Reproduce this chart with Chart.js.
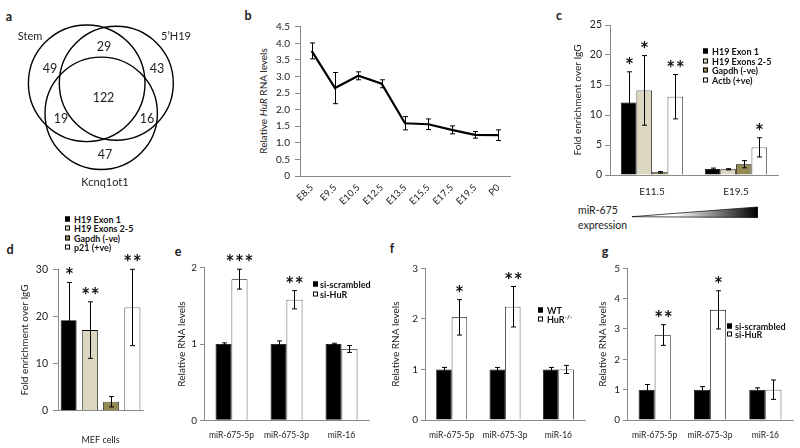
<!DOCTYPE html>
<html><head><meta charset="utf-8">
<script src="https://cdn.jsdelivr.net/npm/chart.js@4.4.0/dist/chart.umd.min.js"></script>
<style>
html,body{margin:0;padding:0;background:#fff;}
body{width:800px;height:448px;position:relative;overflow:hidden;font-family:Lato,"Open Sans",sans-serif;color:#1a1a1a;}
canvas{position:absolute;}
.t{position:absolute;white-space:nowrap;line-height:1;}
.letter{font-weight:bold;font-size:12.5px;transform:translate(-50%,-50%);}
.leg{position:absolute;font-weight:bold;font-size:9px;color:#111;}
.leg .it{position:absolute;white-space:nowrap;line-height:1;transform:translateY(-50%);}
.leg .sw{position:absolute;width:5px;height:5px;border:1px solid #000;box-sizing:border-box;transform:translateY(-50%);}
.rot{position:absolute;white-space:nowrap;font-size:10px;line-height:1;transform:translate(-50%,-50%) rotate(-90deg);color:#222;}
sup{font-size:6px;vertical-align:4px;}
</style></head><body>

<div class="t letter" style="left:9px;top:17px">a</div>
<div class="t letter" style="left:248px;top:16px">b</div>
<div class="t letter" style="left:559px;top:16px">c</div>
<div class="t letter" style="left:10px;top:250px">d</div>
<div class="t letter" style="left:178px;top:252px">e</div>
<div class="t letter" style="left:392px;top:249px">f</div>
<div class="t letter" style="left:605px;top:252px">g</div>

<div class="rot" style="left:263px;top:101px">Relative <i>HuR</i> RNA levels</div>

<div class="t" style="left:578px;top:205px;font-size:10.5px;color:#222">miR-675</div>
<div class="t" style="left:578px;top:220px;font-size:10.5px;color:#222">expression</div>
<svg style="position:absolute;left:0;top:0" width="800" height="448">
<defs><linearGradient id="gr" x1="0" x2="1"><stop offset="0" stop-color="#fff"/><stop offset="0.35" stop-color="#fff"/><stop offset="1" stop-color="#000"/></linearGradient></defs>
<polygon points="632,216.7 757.5,207 757.5,217.5" fill="url(#gr)" stroke="#000" stroke-width="0.7"/>
<line x1="756.5" y1="207" x2="756.5" y2="217.5" stroke="#000" stroke-width="2"/>
</svg>

<script>
// ================= DATA =================
// Panel a (Venn)
const vennSets = ['Stem', '5’H19', 'Kcnq1ot1'];
const vennCounts = [49, 29, 43, 122, 19, 16, 47]; // Stem only, Stem∩5'H19, 5'H19 only, all, Stem∩Kcnq, 5'H19∩Kcnq, Kcnq only

// Panel b
const bCategories = ['E8.5','E9.5','E10.5','E12.5','E13.5','E15.5','E17.5','E19.5','P0'];
const bValues = [3.77, 2.65, 3.02, 2.78, 1.59, 1.56, 1.39, 1.24, 1.23];
const bErrors = [0.24, 0.47, 0.12, 0.12, 0.20, 0.16, 0.12, 0.10, 0.16];
const bYTicks = [0, 0.5, 1, 1.5, 2, 2.5, 3, 3.5, 4, 4.5];

// Panel c
const cCategories = ['E11.5', 'E19.5'];
const cSeries = ['H19 Exon 1', 'H19 Exons 2-5', 'Gapdh (-ve)', 'Actb (+ve)'];
const cH19Exon1 = [12.1, 1.0];
const cH19Exons25 = [14.1, 0.95];
const cGapdh = [0.45, 1.8];
const cActb = [13.05, 4.6];
const cH19Exon1Err = [5.1, 0.15];
const cH19Exons25Err = [5.8, 0.1];
const cGapdhErr = [0.12, 0.6];
const cActbErr = [3.7, 1.6];
const cStars = [['*', ''], ['*', ''], ['', ''], ['**', '*']];
const cYTicks = [0, 5, 10, 15, 20, 25];

// Panel d
const dCategories = ['MEF cells'];
const dSeries = ['H19 Exon 1', 'H19 Exons 2-5', 'Gapdh (-ve)', 'p21 (+ve)'];
const dH19Exon1 = [19.2];
const dH19Exons25 = [17.1];
const dGapdh = [1.9];
const dP21 = [21.9];
const dH19Exon1Err = [8.0];
const dH19Exons25Err = [6.0];
const dGapdhErr = [1.1];
const dP21Err = [8.1];
const dStars = [['*'], ['**'], [''], ['**']];
const dYTicks = [0, 10, 20, 30];

// Panel e
const eCategories = ['miR-675-5p', 'miR-675-3p', 'miR-16'];
const eSeries = ['si-scrambled', 'si-HuR'];
const eScrambled = [1.0, 1.0, 1.0];
const eSiHuR = [1.85, 1.58, 0.935];
const eScrambledErr = [0.015, 0.04, 0.01];
const eSiHuRErr = [0.13, 0.12, 0.045];
const eStars = ['***', '**', ''];
const eYTicks = [0, 1, 2];

// Panel f
const fCategories = ['miR-675-5p', 'miR-675-3p', 'miR-16'];
const fSeries = ['WT', 'HuR-/-'];
const fWT = [1.0, 1.0, 1.0];
const fHuRKO = [2.03, 2.24, 1.0];
const fWTErr = [0.04, 0.04, 0.04];
const fHuRKOErr = [0.35, 0.40, 0.08];
const fStars = ['*', '**', ''];
const fYTicks = [0, 1, 2, 3];

// Panel g
const gCategories = ['miR-675-5p', 'miR-675-3p', 'miR-16'];
const gSeries = ['si-scrambled', 'si-HuR'];
const gScrambled = [1.0, 1.0, 1.0];
const gSiHuR = [2.8, 3.63, 1.0];
const gScrambledErr = [0.17, 0.10, 0.06];
const gSiHuRErr = [0.34, 0.63, 0.32];
const gStars = ['**', '*', ''];
const gYTicks = [0, 1, 2, 3, 4, 5];

// ================= STYLE / LAYOUT =================
const FONT = 'Lato, "Open Sans", sans-serif';
const AX = '#8a8a8a';
const TXT = '#222';
const BLACK = '#000000', BEIGE = '#dcd7c0', OLIVE = '#948a54', WHITE = '#ffffff';

Chart.defaults.font.family = FONT;
Chart.defaults.color = TXT;
Chart.defaults.animation = false;
Chart.defaults.events = [];
Chart.defaults.plugins.legend.display = false;
Chart.defaults.plugins.tooltip.enabled = false;

function drawStars(ctx, s, cx, cy) {
  ctx.save();
  ctx.font = 'bold 21px ' + FONT;
  const m = ctx.measureText('*');
  const gap = 9.5, n = s.length;
  ctx.fillStyle = '#111'; ctx.textAlign = 'center'; ctx.textBaseline = 'alphabetic';
  const by = cy + (m.actualBoundingBoxAscent - m.actualBoundingBoxDescent) / 2;
  for (let k = 0; k < n; k++) ctx.fillText('*', cx + (k - (n - 1) / 2) * gap, by);
  ctx.restore();
}

const errStarPlugin = {
  id: 'errStar',
  afterDatasetsDraw(chart) {
    const ctx = chart.ctx, y = chart.scales.y;
    ctx.save();
    chart.data.datasets.forEach((ds, i) => {
      if (!ds.errors) return;
      const meta = chart.getDatasetMeta(i);
      meta.data.forEach((el, j) => {
        const v = ds.data[j], e = ds.errors[j];
        const x = Math.round(el.x) + 0.5;
        const yt = y.getPixelForValue(v + e), yb = y.getPixelForValue(v - e);
        const cw = 2.5;
        ctx.strokeStyle = '#000'; ctx.lineWidth = 1;
        ctx.beginPath();
        ctx.moveTo(x, yt); ctx.lineTo(x, yb);
        ctx.moveTo(x - cw, yt); ctx.lineTo(x + cw, yt);
        ctx.moveTo(x - cw, yb); ctx.lineTo(x + cw, yb);
        ctx.stroke();
        const s = ds.stars && ds.stars[j];
        if (s) drawStars(ctx, s, x, yt - 11);
      });
    });
    ctx.restore();
  }
};

function mk(box, area, yW, xH, config) {
  const cv = document.createElement('canvas');
  cv.width = box.w; cv.height = box.h;
  cv.style.left = box.x + 'px'; cv.style.top = box.y + 'px';
  cv.style.width = box.w + 'px'; cv.style.height = box.h + 'px';
  document.body.appendChild(cv);
  config.options.responsive = false;
  config.options.maintainAspectRatio = false;
  config.options.layout = { padding: {
    left: area.l - box.x - yW, top: area.t - box.y,
    right: box.x + box.w - area.r, bottom: box.y + box.h - area.b - xH } };
  if (config.options.scales) {
    config.options.scales.x.afterFit = s => { s.height = xH; };
    config.options.scales.y.afterFit = s => { s.width = yW; };
  }
  return new Chart(cv, config);
}

function yScale(ticksArr, opts) {
  return {
    min: ticksArr[0], max: ticksArr[ticksArr.length - 1],
    afterBuildTicks: s => { s.ticks = ticksArr.map(v => ({ value: v })); },
    ticks: { font: { size: opts.tickSize }, padding: opts.pad, color: TXT },
    grid: { drawOnChartArea: false, drawTicks: true, tickLength: opts.tl, color: AX, lineWidth: 1 },
    border: { display: true, color: AX, width: 1 },
    title: opts.title ? { display: true, text: opts.title, font: { size: 10 }, padding: 0, color: TXT } : { display: false }
  };
}
function xScale(opts) {
  return {
    type: 'category', offset: true,
    grid: { display: false, drawTicks: false },
    border: { display: true, color: AX, width: 1 },
    ticks: { font: { size: opts.size }, padding: opts.pad, color: TXT, autoSkip: false, maxRotation: opts.rot || 0, minRotation: opts.rot || 0 }
  };
}

// ---------- Panel a: Venn ----------
const vennCircles = [ {x: 86.7, y: 83.3, rad: 58.3}, {x: 116.3, y: 83.3, rad: 57.0}, {x: 101.2, y: 113.3, rad: 56.2} ];
const vennSetPos = [ [30, 36], [176, 36], [105, 182] ];
const vennCountPos = [ [50, 69], [104, 47], [157, 68.5], [103.5, 97.5], [61, 118.5], [147, 118.5], [105, 155] ];
const vennLabelPlugin = {
  id: 'vennLabels',
  afterDatasetsDraw(chart) {
    const { ctx, scales: { x, y } } = chart;
    ctx.save();
    ctx.fillStyle = TXT; ctx.textAlign = 'center'; ctx.textBaseline = 'middle';
    ctx.font = '12.5px ' + FONT;
    vennCounts.forEach((c, i) => ctx.fillText(String(c), x.getPixelForValue(vennCountPos[i][0]), y.getPixelForValue(vennCountPos[i][1])));
    ctx.font = '11px ' + FONT;
    vennSets.forEach((s, i) => ctx.fillText(s, x.getPixelForValue(vennSetPos[i][0]), y.getPixelForValue(vennSetPos[i][1])));
    ctx.restore();
  }
};
(function () {
  const cv = document.createElement('canvas');
  cv.width = 200; cv.height = 200;
  cv.style.left = '0px'; cv.style.top = '0px'; cv.style.width = '200px'; cv.style.height = '200px';
  document.body.appendChild(cv);
  const radFn = ctx => {
    if (!ctx.raw) return 0;
    const s = ctx.chart.scales.x;
    return s.getPixelForValue(ctx.raw.rad) - s.getPixelForValue(0);
  };
  new Chart(cv, {
    type: 'scatter',
    data: { datasets: [{
      data: vennCircles.map(c => ({ x: c.x, y: c.y, rad: c.rad })),
      showLine: false, clip: false,
      pointBackgroundColor: 'rgba(0,0,0,0)', pointBorderColor: '#000', pointBorderWidth: 1.4,
      pointRadius: radFn, pointHoverRadius: radFn
    }] },
    options: {
      responsive: false, layout: { padding: 0 },
      scales: { x: { display: false, min: 0, max: 200 }, y: { display: false, min: 0, max: 200, reverse: true } }
    },
    plugins: [vennLabelPlugin]
  });
})();

// ---------- Panel b ----------
mk({ x: 268, y: 0, w: 247, h: 213 }, { l: 300, t: 26.7, r: 510, b: 176 }, 30, 35, {
  type: 'line',
  data: { labels: bCategories, datasets: [{ data: bValues, errors: bErrors, borderColor: '#000', borderWidth: 2.2, pointRadius: 0, tension: 0, fill: false }] },
  options: { scales: { x: xScale({ size: 9.5, pad: 6, rot: 45 }), y: yScale(bYTicks, { tickSize: 10, pad: 5, tl: 5 }) } },
  plugins: [errStarPlugin]
});

// ---------- Panel c ----------
const cData = [cH19Exon1, cH19Exons25, cGapdh, cActb];
const cErr = [cH19Exon1Err, cH19Exons25Err, cGapdhErr, cActbErr];
const barColors4 = [BLACK, BEIGE, OLIVE, WHITE];
mk({ x: 570, y: 0, w: 210, h: 202 }, { l: 610, t: 25, r: 778, b: 175 }, 38, 25, {
  type: 'bar',
  data: { labels: cCategories, datasets: cSeries.map((n, i) => ({ label: n, data: cData[i], errors: cErr[i], stars: cStars[i], backgroundColor: barColors4[i], borderColor: '#000', borderWidth: 0.8, categoryPercentage: 0.74, barPercentage: 1 })) },
  options: { scales: { x: xScale({ size: 10, pad: 11 }), y: yScale(cYTicks, { tickSize: 10.5, pad: 3, tl: 5, title: 'Fold enrichment over IgG' }) } },
  plugins: [errStarPlugin]
});

// ---------- Panel d ----------
const dData = [dH19Exon1, dH19Exons25, dGapdh, dP21];
const dErr = [dH19Exon1Err, dH19Exons25Err, dGapdhErr, dP21Err];
mk({ x: 17, y: 245, w: 130, h: 203 }, { l: 58, t: 269.3, r: 143, b: 410.7 }, 39, 36, {
  type: 'bar',
  data: { labels: dCategories, datasets: dSeries.map((n, i) => ({ label: n, data: dData[i], errors: dErr[i], stars: dStars[i], backgroundColor: barColors4[i], borderColor: '#000', borderWidth: 0.8, categoryPercentage: 1.0, barPercentage: 0.75 })) },
  options: { scales: { x: xScale({ size: 9, pad: 24 }), y: yScale(dYTicks, { tickSize: 10.5, pad: 5, tl: 5, title: 'Fold enrichment over IgG' }) } },
  plugins: [errStarPlugin]
});

// ---------- Panels e, f, g ----------
function pairPanel(box, area, yW, cats, series, vals, errs, stars, yt) {
  return mk(box, area, yW, 22, {
    type: 'bar',
    data: { labels: cats, datasets: series.map((n, i) => ({ label: n, data: vals[i], errors: errs[i], stars: i === 1 ? stars : null, backgroundColor: i === 0 ? BLACK : WHITE, borderColor: '#000', borderWidth: 0.8, categoryPercentage: 0.58, barPercentage: 1 })) },
    options: { scales: { x: xScale({ size: 8.5, pad: 10 }), y: yScale(yt, { tickSize: 10, pad: 3, tl: 4, title: 'Relative RNA levels' }) } },
    plugins: [errStarPlugin]
  });
}
pairPanel({ x: 174, y: 245, w: 198, h: 199 }, { l: 204, t: 267.7, r: 369, b: 420.3 }, 28, eCategories, eSeries, [eScrambled, eSiHuR], [eScrambledErr, eSiHuRErr], eStars, eYTicks);
pairPanel({ x: 388, y: 245, w: 202, h: 199 }, { l: 425, t: 268.3, r: 585, b: 420 }, 35, fCategories, fSeries, [fWT, fHuRKO], [fWTErr, fHuRKOErr], fStars, fYTicks);
pairPanel({ x: 595, y: 245, w: 203, h: 199 }, { l: 627, t: 268.3, r: 793, b: 420 }, 30, gCategories, gSeries, [gScrambled, gSiHuR], [gScrambledErr, gSiHuRErr], gStars, gYTicks);

// ---------- Legends (HTML text) ----------
function legend(x, y0, dy, names, colors, textDx, fmt) {
  const L = document.createElement('div');
  L.className = 'leg'; L.style.left = x + 'px'; L.style.top = '0px';
  names.forEach((n, i) => {
    const yy = y0 + i * dy;
    const sw = document.createElement('div'); sw.className = 'sw';
    sw.style.left = '0px'; sw.style.top = yy + 'px'; sw.style.background = colors[i];
    const it = document.createElement('div'); it.className = 'it';
    it.style.left = textDx + 'px'; it.style.top = yy + 'px';
    if (fmt) it.innerHTML = fmt(n); else it.textContent = n;
    L.appendChild(sw); L.appendChild(it);
  });
  document.body.appendChild(L);
}
legend(703, 51, 9.7, cSeries, barColors4, 9);
legend(65, 218.5, 9.6, dSeries, barColors4, 9);
legend(313, 283.5, 10, eSeries, [BLACK, WHITE], 7);
legend(538, 310, 9.3, fSeries, [BLACK, WHITE], 9, n => n === 'HuR-/-' ? 'HuR<sup>-/-</sup>' : n);
legend(727, 325.5, 8.7, gSeries, [BLACK, WHITE], 8);
</script>
</body></html>
